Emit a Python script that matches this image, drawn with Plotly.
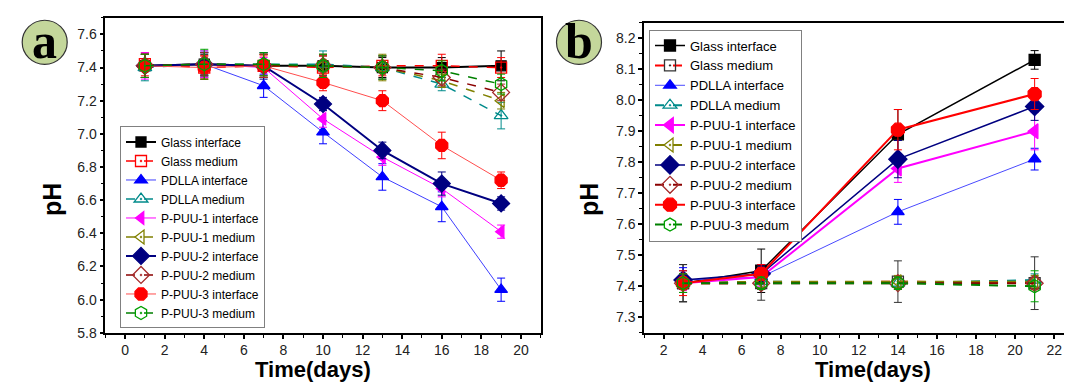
import plotly.graph_objects as go

# ---------------- data: panel a ----------------
days_a = [1, 4, 7, 10, 13, 16, 19]
glass_int_a = [7.41, 7.42, 7.41, 7.41, 7.40, 7.40, 7.41]
glass_int_a_err = [0.07, 0.06, 0.07, 0.06, 0.06, 0.06, 0.09]
glass_med_a = [7.42, 7.40, 7.41, 7.40, 7.41, 7.41, 7.40]
glass_med_a_err = [0.07, 0.07, 0.07, 0.07, 0.06, 0.07, 0.06]
pdlla_int_a = [7.41, 7.42, 7.29, 7.01, 6.74, 6.56, 6.06]
pdlla_int_a_err = [0.07, 0.07, 0.07, 0.07, 0.08, 0.09, 0.07]
pdlla_med_a = [7.40, 7.42, 7.42, 7.42, 7.40, 7.30, 7.11]
pdlla_med_a_err = [0.08, 0.08, 0.07, 0.08, 0.07, 0.04, 0.08]
ppuu1_int_a = [7.41, 7.42, 7.40, 7.09, 6.86, 6.67, 6.41]
ppuu1_int_a_err = [0.08, 0.08, 0.06, 0.05, 0.05, 0.05, 0.04]
ppuu1_med_a = [7.41, 7.42, 7.41, 7.41, 7.40, 7.32, 7.20]
ppuu1_med_a_err = [0.07, 0.07, 0.07, 0.07, 0.08, 0.04, 0.05]
ppuu2_int_a = [7.41, 7.42, 7.41, 7.18, 6.90, 6.70, 6.58]
ppuu2_int_a_err = [0.07, 0.07, 0.08, 0.04, 0.05, 0.07, 0.04]
ppuu2_med_a = [7.41, 7.42, 7.41, 7.41, 7.40, 7.34, 7.25]
ppuu2_med_a_err = [0.07, 0.07, 0.07, 0.07, 0.07, 0.05, 0.05]
ppuu3_int_a = [7.41, 7.40, 7.41, 7.31, 7.20, 6.93, 6.72]
ppuu3_int_a_err = [0.07, 0.07, 0.06, 0.05, 0.06, 0.08, 0.05]
ppuu3_med_a = [7.41, 7.42, 7.42, 7.41, 7.40, 7.38, 7.30]
ppuu3_med_a_err = [0.07, 0.09, 0.07, 0.07, 0.07, 0.06, 0.06]

# ---------------- data: panel b ----------------
days_b = [3, 7, 14, 21]
glass_int_b = [7.41, 7.45, 7.89, 8.13]
glass_int_b_err = [0.06, 0.07, 0.08, 0.03]
glass_med_b = [7.41, 7.41, 7.415, 7.41]
glass_med_b_err = [0.06, 0.055, 0.067, 0.085]
pdlla_int_b = [7.42, 7.43, 7.64, 7.81]
pdlla_int_b_err = [0.04, 0.04, 0.04, 0.035]
pdlla_med_b = [7.41, 7.415, 7.41, 7.42]
pdlla_med_b_err = [0.03, 0.02, 0.02, 0.02]
ppuu1_int_b = [7.41, 7.43, 7.78, 7.90]
ppuu1_int_b_err = [0.03, 0.03, 0.045, 0.06]
ppuu1_med_b = [7.41, 7.415, 7.415, 7.415]
ppuu1_med_b_err = [0.03, 0.02, 0.02, 0.02]
ppuu2_int_b = [7.42, 7.44, 7.81, 7.98]
ppuu2_int_b_err = [0.03, 0.03, 0.06, 0.045]
ppuu2_med_b = [7.41, 7.41, 7.41, 7.41]
ppuu2_med_b_err = [0.03, 0.02, 0.02, 0.02]
ppuu3_int_b = [7.41, 7.44, 7.905, 8.02]
ppuu3_int_b_err = [0.04, 0.03, 0.065, 0.05]
ppuu3_med_b = [7.41, 7.41, 7.41, 7.40]
ppuu3_med_b_err = [0.03, 0.02, 0.02, 0.05]

names_a = ["Glass interface", "Glass medium", "PDLLA interface", "PDLLA medium",
           "P-PUU-1 interface", "P-PUU-1 medium", "P-PUU-2 interface", "P-PUU-2 medium",
           "P-PUU-3 interface", "P-PUU-3 medium"]
names_b = ["Glass interface", "Glass medium", "PDLLA interface", "PDLLA medium",
           "P-PUU-1 interface", "P-PUU-1 medium", "P-PUU-2 interface", "P-PUU-2 medium",
           "P-PUU-3 interface", "P-PUU-3 medum"]

series_a = [(glass_int_a, glass_int_a_err), (glass_med_a, glass_med_a_err),
            (pdlla_int_a, pdlla_int_a_err), (pdlla_med_a, pdlla_med_a_err),
            (ppuu1_int_a, ppuu1_int_a_err), (ppuu1_med_a, ppuu1_med_a_err),
            (ppuu2_int_a, ppuu2_int_a_err), (ppuu2_med_a, ppuu2_med_a_err),
            (ppuu3_int_a, ppuu3_int_a_err), (ppuu3_med_a, ppuu3_med_a_err)]
series_b = [(glass_int_b, glass_int_b_err), (glass_med_b, glass_med_b_err),
            (pdlla_int_b, pdlla_int_b_err), (pdlla_med_b, pdlla_med_b_err),
            (ppuu1_int_b, ppuu1_int_b_err), (ppuu1_med_b, ppuu1_med_b_err),
            (ppuu2_int_b, ppuu2_int_b_err), (ppuu2_med_b, ppuu2_med_b_err),
            (ppuu3_int_b, ppuu3_int_b_err), (ppuu3_med_b, ppuu3_med_b_err)]

# ---------------- styles ----------------
# (line color, marker color, symbol, marker size, line width, dash)
styles_a = [
    ("#000000", "#000000", "square", 10, 2.0, "solid"),
    ("#ff0000", "#ff0000", "square-open-dot", 11, 1.5, "dash"),
    ("#3f3fff", "#0000ff", "triangle-up", 11, 1.0, "solid"),
    ("#008b8b", "#008b8b", "triangle-up-open-dot", 12, 1.5, "dash"),
    ("#ff00ff", "#ff00ff", "triangle-left", 11, 1.0, "solid"),
    ("#808000", "#808000", "triangle-left-open-dot", 12, 1.5, "dash"),
    ("#000080", "#000080", "diamond", 13, 2.0, "solid"),
    ("#8b0000", "#a52a2a", "diamond-open-dot", 13, 1.5, "dash"),
    ("#ff4d4d", "#ff0000", "octagon", 13, 1.0, "solid"),
    ("#008000", "#00a000", "hexagon-open-dot", 13, 1.5, "dash"),
]
styles_b = [
    ("#000000", "#000000", "square", 11, 1.5, "solid"),
    ("#ff0000", "#333333", "square-open-dot", 11, 2.0, "dash"),
    ("#4a4aff", "#0000ff", "triangle-up", 11, 1.0, "solid"),
    ("#008b8b", "#008b8b", "triangle-up-open-dot", 12, 2.0, "dash"),
    ("#ff00ff", "#ff00ff", "triangle-left", 13, 2.0, "solid"),
    ("#808000", "#808000", "triangle-left-open-dot", 12, 2.0, "dash"),
    ("#000080", "#000080", "diamond", 14, 1.5, "solid"),
    ("#8b0000", "#a52a2a", "diamond-open-dot", 13, 2.0, "dash"),
    ("#ff0000", "#ff0000", "octagon", 14, 2.0, "solid"),
    ("#008000", "#00a000", "hexagon-open-dot", 13, 2.0, "dash"),
]

FONT = "Arial, Liberation Sans, sans-serif"
fig = go.Figure()


def add_series(x, yerr, name, style, xa, ya, legend):
    y, err = yerr
    lc, mc, sym, ms, lw, dash = style
    fig.add_trace(go.Scatter(
        x=x, y=y, name=name, mode="lines+markers",
        xaxis=xa, yaxis=ya, legend=legend,
        line=dict(color=lc, width=lw, dash=dash),
        marker=dict(symbol=sym, size=ms, color=mc,
                    line=dict(color=mc, width=1.3)),
        error_y=dict(type="data", array=err, color=mc, thickness=1, width=4, visible=True),
    ))


for nm, s, st in zip(names_a, series_a, styles_a):
    add_series(days_a, s, nm, st, "x", "y", "legend")
for nm, s, st in zip(names_b, series_b, styles_b):
    add_series(days_b, s, nm, st, "x2", "y2", "legend2")

W, H = 1072, 384
ax_a = (97.3 / W, 532.7 / W)
ax_b = (636.0 / W, 1065.7 / W)
ya_dom = (1 - 331.7 / H, 1 - 10 / H)
yb_dom = (1 - 331.7 / H, 1 - 15 / H)

tickfont = dict(family=FONT, size=14, color="#222222")


def main_axis(domain, anchor, rng, tick0, dtick, mdtick, fmt=None):
    d = dict(domain=domain, anchor=anchor, range=rng, autorange=False,
             tick0=tick0, dtick=dtick, ticks="outside", ticklen=4, tickwidth=1.5,
             tickcolor="#000", showline=True, linecolor="#000", linewidth=1.5,
             mirror=True, showgrid=False, zeroline=False, tickfont=tickfont,
             minor=dict(ticks="outside", ticklen=3, tickwidth=1.2, dtick=mdtick,
                        tickcolor="#000", showgrid=False))
    if fmt:
        d["tickformat"] = fmt
    return d


def mirror_axis(overlay, anchor, side, rng, tick0, dtick):
    return dict(overlaying=overlay, anchor=anchor, side=side, range=rng,
                autorange=False, tick0=tick0, dtick=dtick, ticks="inside",
                ticklen=5, tickwidth=1.5, tickcolor="#000", showticklabels=False,
                showline=False, showgrid=False, zeroline=False)


fig.update_layout(
    width=W, height=H, margin=dict(l=0, r=0, t=0, b=0),
    paper_bgcolor="white", plot_bgcolor="white",
    font=dict(family=FONT, color="#000"),
    xaxis=main_axis(ax_a, "y", [-1, 21], 0, 2, 1),
    yaxis=main_axis(ya_dom, "x", [5.8, 7.7], 5.8, 0.2, 0.1, ".1f"),
    xaxis2=main_axis(ax_b, "y2", [1, 23], 0, 2, 1),
    yaxis2=main_axis(yb_dom, "x2", [7.25, 8.25], 7.3, 0.1, 0.05, ".1f"),
    xaxis3=mirror_axis("x", "y", "top", [-1, 21], 0, 2),
    yaxis3=mirror_axis("y", "x", "right", [5.8, 7.7], 5.8, 0.2),
    xaxis4=mirror_axis("x2", "y2", "top", [1, 23], 0, 2),
    yaxis4=mirror_axis("y2", "x2", "right", [7.25, 8.25], 7.3, 0.1),
    legend=dict(x=112 / W, y=1 - 121 / H, xanchor="left", yanchor="top",
                bgcolor="white", bordercolor="#808080", borderwidth=1,
                font=dict(family=FONT, size=12, color="#000"), tracegroupgap=0),
    legend2=dict(x=641 / W, y=1 - 22 / H, xanchor="left", yanchor="top",
                 bgcolor="white", bordercolor="#808080", borderwidth=1,
                 font=dict(family=FONT, size=13, color="#000"), tracegroupgap=0),
    showlegend=True,
)

# axis titles
for cx, cy in [(305, 369.5), (865, 369.5)]:
    fig.add_annotation(text="<b>Time(days)</b>", xref="paper", yref="paper",
                       x=cx / W, y=1 - cy / H, showarrow=False,
                       xanchor="center", yanchor="middle",
                       font=dict(family=FONT, size=22, color="#000"))
for cx, cy in [(44, 196), (581, 196)]:
    fig.add_annotation(text="<b>pH</b>", xref="paper", yref="paper",
                       x=cx / W, y=1 - cy / H, showarrow=False, textangle=-90,
                       xanchor="center", yanchor="middle",
                       font=dict(family=FONT, size=25, color="#000"))

# panel badges
for (cx, cy, letter) in [(36.7, 35, "a"), (571, 35, "b")]:
    r = 22.5
    fig.add_shape(type="circle", xref="paper", yref="paper",
                  x0=(cx - r) / W, x1=(cx + r) / W, y0=1 - (cy + r) / H, y1=1 - (cy - r) / H,
                  fillcolor="#c4d79b", line=dict(color="#333333", width=1.2), layer="above")
    fig.add_annotation(text="<b>%s</b>" % letter, xref="paper", yref="paper",
                       x=cx / W, y=1 - (cy - 1) / H, showarrow=False,
                       xanchor="center", yanchor="middle",
                       font=dict(family="Liberation Serif, Times New Roman, serif", size=50, color="#000"))

fig.write_html("out.html")
